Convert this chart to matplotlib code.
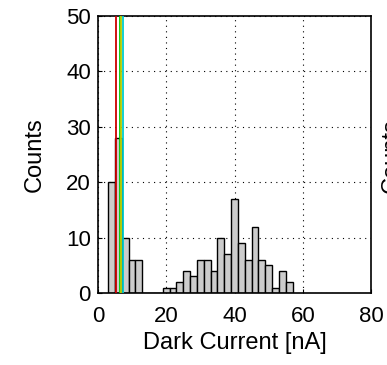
import matplotlib
matplotlib.use("Agg")
import matplotlib.pyplot as plt
import numpy as np

plt.rcParams['font.family'] = ['Liberation Sans', 'DejaVu Sans']

# histogram bins (dark current in nA) and counts
bin_edges = np.arange(3, 59, 2)
counts = [20, 28, 10, 6, 6, 0, 0, 0, 1, 1, 2, 4, 3, 6, 6, 4, 10, 7,
          17, 9, 6, 12, 6, 5, 1, 4, 2]

# marker lines (nA)
line_pos = [5.4, 6.4, 6.8, 7.35]
line_colors = ['#cc0000', '#00cc00', '#bbcc00', '#00cccc']

fig = plt.figure(figsize=(3.87, 3.65), dpi=100)
ax = fig.add_axes([0.253, 0.197, 0.706, 0.759])

ax.bar(bin_edges[:-1], counts, width=np.diff(bin_edges), align='edge',
       color='#cccccc', edgecolor='black', linewidth=1.0, zorder=2)

for x, c in zip(line_pos, line_colors):
    ax.axvline(x, color=c, linewidth=1.3, zorder=3)

ax.set_xlim(0, 80)
ax.set_ylim(0, 50)
ax.set_xticks([0, 20, 40, 60, 80])
ax.set_yticks([0, 10, 20, 30, 40, 50])
ax.grid(True, color='black', linestyle=(0, (1, 4)), linewidth=0.8, zorder=0)
ax.set_axisbelow(True)
ax.tick_params(direction='in', length=3, labelsize=16)
ax.tick_params(axis='y', pad=5)
ax.tick_params(axis='x', pad=9)
for s in ax.spines.values():
    s.set_linewidth(1.2)

ax.set_xlabel('Dark Current [nA]', fontsize=17, labelpad=4)
ax.set_ylabel('Counts', fontsize=17, labelpad=15)

# neighbouring panel's label, cut off at the right edge
fig.text(0.9845, 0.575, 'Counts', rotation=90, ha='left', va='center',
         fontsize=17)

fig.savefig('out.png', dpi=100)
